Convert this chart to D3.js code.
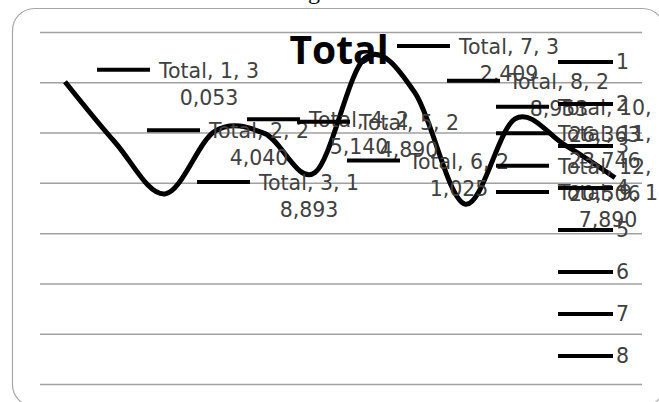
<!DOCTYPE html>
<html>
<head>
<meta charset="utf-8">
<script src="https://cdn.jsdelivr.net/npm/d3@7"></script>
<style>
  html, body { margin: 0; padding: 0; background: #fff; }
  svg { display: block; }
</style>
</head>
<body>
<svg id="chart" width="659" height="402"></svg>
<script>
// chart values
var categories = [1, 2, 3, 4, 5, 6, 7, 8, 9, 10, 11, 12];
var totals = [30053, 24040, 18893, 25140, 24890, 21025, 32409, 28953, 17890, 26363, 23746, 20506];
var seriesName = "Total";
var legendItems = ["1", "2", "3", "4", "5", "6", "7", "8"];
var gridTicks = [0, 5000, 10000, 15000, 20000, 25000, 30000, 35000];

var svg = d3.select("#chart");

// caption cut off at the top
svg.append("text")
    .attr("x", 288).attr("y", -1)
    .attr("font-family", "Liberation Serif")
    .attr("font-size", 24)
    .attr("fill", "#000")
    .text("Figure 3");

// rounded chart frame
svg.append("rect")
    .attr("x", 12.5).attr("y", 8.5)
    .attr("width", 652).attr("height", 398)
    .attr("rx", 22).attr("ry", 22)
    .attr("fill", "#fff")
    .attr("stroke", "#a6a6a6")
    .attr("stroke-width", 1.2);

var plot = {left: 40, right: 640, top: 32, bottom: 384};

var x = d3.scaleBand().domain(categories).range([plot.left, plot.right]).padding(0);
var y = d3.scaleLinear().domain([0, 35000]).range([plot.bottom, plot.top]);
var cx = function(c){ return x(c) + x.bandwidth() / 2; };

// horizontal gridlines
var grid = svg.append("g")
    .attr("transform", "translate(" + plot.left + ",0)")
    .call(d3.axisLeft(y).tickValues(gridTicks).tickSize(-(plot.right - plot.left + 2)).tickFormat(""));
grid.select(".domain").remove();
grid.selectAll("line").attr("stroke", "#a0a0a0").attr("stroke-width", 1.5);

// title
svg.append("text")
    .attr("x", 339).attr("y", 64)
    .attr("text-anchor", "middle")
    .attr("font-family", "Open Sans")
    .attr("font-weight", "bold")
    .attr("font-size", 39)
    .attr("fill", "#000")
    .text(seriesName);

// smoothed line
var pts = categories.map(function(c, i){ return [cx(c), y(totals[i])]; });
svg.append("path")
    .attr("d", d3.line().curve(d3.curveCardinal.tension(0))(pts))
    .attr("fill", "none")
    .attr("stroke", "#000")
    .attr("stroke-width", 5)
    .attr("stroke-linejoin", "round");

// data labels with legend key
var fmt = d3.format(",");
var maxLeft = 496;
var labels = svg.append("g")
    .attr("font-family", "DejaVu Sans")
    .attr("font-size", 20.5)
    .attr("fill", "#404040");

categories.forEach(function(c, i){
    var v = fmt(totals[i]);
    var line1, line2;
    if (c < 10) {
        line1 = seriesName + ", " + c + ", " + v.slice(0, 1);
        line2 = v.slice(1);
    } else {
        line1 = seriesName + ", " + c + ",";
        line2 = v;
    }
    var px = cx(c), py = y(totals[i]);
    var left = Math.min(px + 32, maxLeft);

    labels.append("line")
        .attr("x1", left).attr("x2", left + 53)
        .attr("y1", py - 12).attr("y2", py - 12)
        .attr("stroke", "#000").attr("stroke-width", 4);

    var t1 = labels.append("text")
        .attr("x", left + 62).attr("y", py - 4)
        .text(line1);
    var w1 = t1.node().getComputedTextLength();
    labels.append("text")
        .attr("x", left + 62 + w1 / 2).attr("y", py + 23)
        .attr("text-anchor", "middle")
        .text(line2);
});

// legend
var legend = svg.append("g")
    .attr("font-family", "DejaVu Sans")
    .attr("font-size", 20.5)
    .attr("fill", "#404040");
legendItems.forEach(function(d, i){
    var ly = 62 + i * 42;
    legend.append("line")
        .attr("x1", 558).attr("x2", 613)
        .attr("y1", ly).attr("y2", ly)
        .attr("stroke", "#000").attr("stroke-width", 4);
    legend.append("text")
        .attr("x", 616).attr("y", ly + 7)
        .text(d);
});
</script>
</body>
</html>
